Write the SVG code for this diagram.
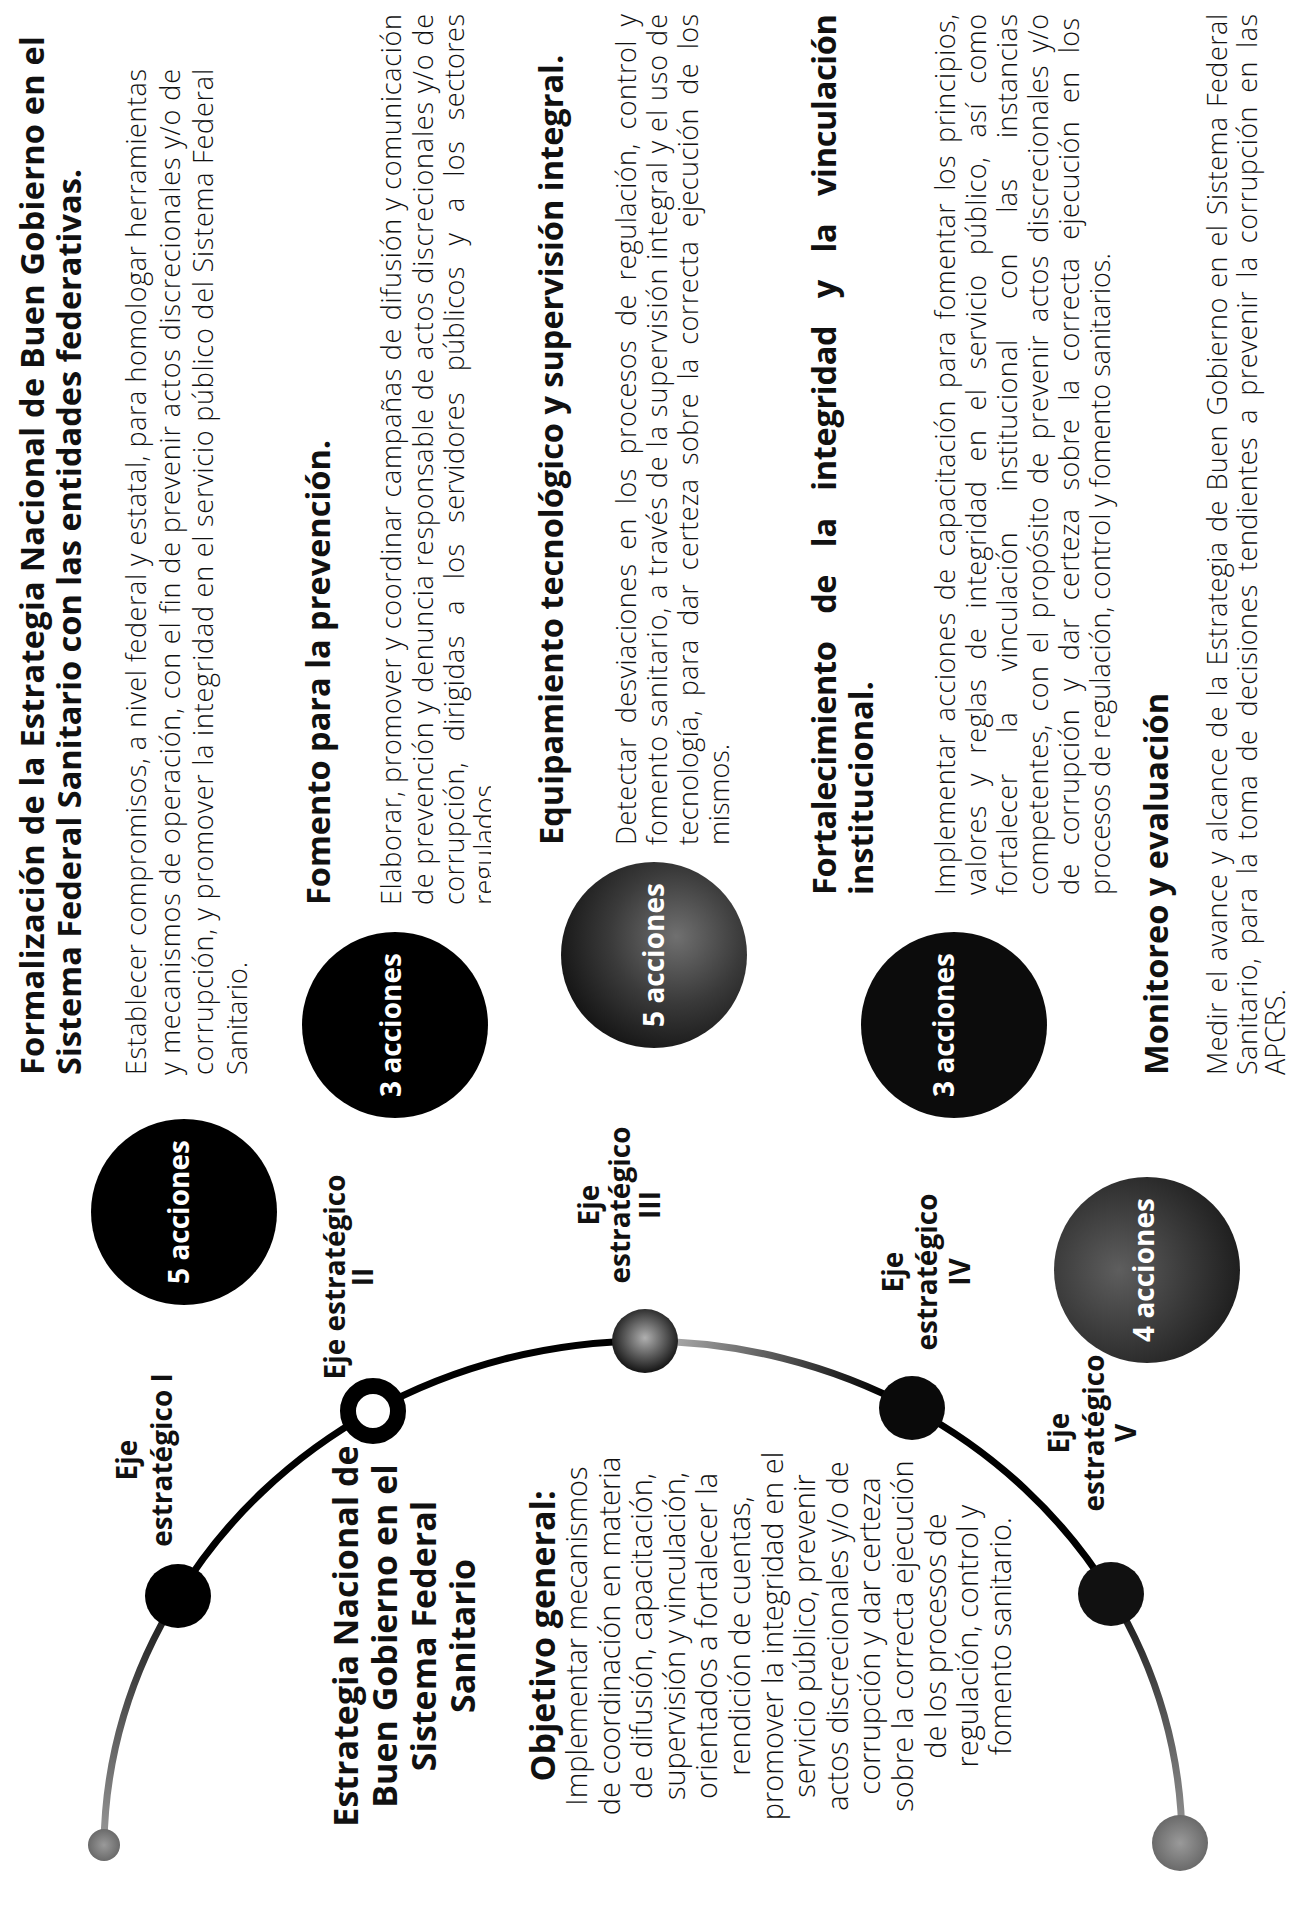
<svg xmlns="http://www.w3.org/2000/svg" width="1295" height="1905" viewBox="0 0 1295 1905">
<defs>
<style>
text{font-family:'Open Sans','Noto Sans','DejaVu Sans',sans-serif;fill:#111}
.h{font-weight:700;font-size:32.5px}
.b{font-weight:300;font-size:27px}
.t{font-weight:700;font-size:34px;text-anchor:middle}
.o{font-weight:300;font-size:29px;text-anchor:middle}
.lab{font-weight:700;font-size:28px;text-anchor:middle}
.cl{font-weight:700;font-size:28px;text-anchor:middle;fill:#fff}
.arc{fill:none;stroke-width:7;stroke-linecap:round}
</style>
<linearGradient id="g0" gradientUnits="userSpaceOnUse" x1="104" y1="1845" x2="178" y2="1596"><stop offset="0" stop-color="#999"/><stop offset="1" stop-color="#111"/></linearGradient>
<linearGradient id="g3" gradientUnits="userSpaceOnUse" x1="670" y1="1341" x2="880" y2="1400"><stop offset="0" stop-color="#aaa"/><stop offset="1" stop-color="#000"/></linearGradient>
<linearGradient id="g5" gradientUnits="userSpaceOnUse" x1="1111" y1="1594" x2="1182" y2="1845"><stop offset="0" stop-color="#111"/><stop offset="1" stop-color="#999"/></linearGradient>
<radialGradient id="rN3" cx="0.5" cy="0.45" r="0.6"><stop offset="0" stop-color="#b0b0b0"/><stop offset="0.5" stop-color="#5a5a5a"/><stop offset="1" stop-color="#050505"/></radialGradient>
<radialGradient id="rEnd" cx="0.5" cy="0.5" r="0.5"><stop offset="0" stop-color="#9a9a9a"/><stop offset="1" stop-color="#6a6a6a"/></radialGradient>
<radialGradient id="rC3" cx="0.62" cy="0.4" r="0.65"><stop offset="0" stop-color="#707070"/><stop offset="0.55" stop-color="#3a3a3a"/><stop offset="1" stop-color="#161616"/></radialGradient>
<radialGradient id="rC5" cx="0.35" cy="0.5" r="0.7"><stop offset="0" stop-color="#5e5e5e"/><stop offset="0.6" stop-color="#353535"/><stop offset="1" stop-color="#1a1a1a"/></radialGradient>
<clipPath id="clipReg" clipPathUnits="userSpaceOnUse"><rect x="0" y="0" width="1905" height="491"/></clipPath>
</defs>
<rect width="1295" height="1905" fill="#fff"/>

<g id="connectors">
<path class="arc" stroke="url(#g0)" stroke-width="5" d="M104 1845 A541 504 0 0 1 178 1596"/>
<path class="arc" stroke="#000" d="M178 1596 A541 504 0 0 1 373 1411"/>
<path class="arc" stroke="#000" d="M373 1411 A541 504 0 0 1 645 1341"/>
<path class="arc" stroke="url(#g3)" d="M645 1341 A541 504 0 0 1 912 1408"/>
<path class="arc" stroke="#000" d="M912 1408 A541 504 0 0 1 1111 1594"/>
<path class="arc" stroke="url(#g5)" stroke-width="5" d="M1111 1594 A541 504 0 0 1 1182 1845"/>
</g>

<g id="end-top"><circle cx="104" cy="1845" r="16" fill="url(#rEnd)"/></g>
<g id="end-bottom"><circle cx="1180" cy="1843" r="28" fill="url(#rEnd)"/></g>

<g id="node-eje1">
<ellipse cx="178" cy="1596" rx="33" ry="32" fill="#000"/>
<g transform="translate(0 1905) rotate(-90)">
<text class="lab" x="445" y="137">Eje</text>
<text class="lab" x="445" y="172">estratégico I</text>
</g>
</g>

<g id="node-eje2">
<circle cx="373" cy="1411" r="25" fill="#fff" stroke="#000" stroke-width="16"/>
<g transform="translate(0 1905) rotate(-90)">
<text class="lab" x="628" y="345">Eje estratégico</text>
<text class="lab" x="628" y="373">II</text>
</g>
</g>

<g id="node-eje3">
<ellipse cx="645" cy="1341" rx="33" ry="32" fill="url(#rN3)"/>
<g transform="translate(0 1905) rotate(-90)">
<text class="lab" x="700" y="599">Eje</text>
<text class="lab" x="700" y="630">estratégico</text>
<text class="lab" x="700" y="660">III</text>
</g>
</g>

<g id="node-eje4">
<ellipse cx="912" cy="1408" rx="33" ry="32" fill="#0a0a0a"/>
<g transform="translate(0 1905) rotate(-90)">
<text class="lab" x="633" y="903">Eje</text>
<text class="lab" x="633" y="937">estratégico</text>
<text class="lab" x="633" y="970">IV</text>
</g>
</g>

<g id="node-eje5">
<ellipse cx="1111" cy="1594" rx="33" ry="32" fill="#111"/>
<g transform="translate(0 1905) rotate(-90)">
<text class="lab" x="472" y="1069">Eje</text>
<text class="lab" x="472" y="1104">estratégico</text>
<text class="lab" x="472" y="1136">V</text>
</g>
</g>

<g id="acciones-1">
<circle cx="184" cy="1212" r="93" fill="#000"/>
<g transform="translate(0 1905) rotate(-90)"><text class="cl" x="693" y="189">5 acciones</text></g>
</g>
<g id="acciones-2">
<circle cx="395" cy="1025" r="93" fill="#000"/>
<g transform="translate(0 1905) rotate(-90)"><text class="cl" x="880" y="401">3 acciones</text></g>
</g>
<g id="acciones-3">
<circle cx="654" cy="955" r="93" fill="url(#rC3)"/>
<g transform="translate(0 1905) rotate(-90)"><text class="cl" x="950" y="664">5 acciones</text></g>
</g>
<g id="acciones-4">
<circle cx="954" cy="1025" r="93" fill="#0c0c0c"/>
<g transform="translate(0 1905) rotate(-90)"><text class="cl" x="880" y="954">3 acciones</text></g>
</g>
<g id="acciones-5">
<circle cx="1147" cy="1270" r="93" fill="url(#rC5)"/>
<g transform="translate(0 1905) rotate(-90)"><text class="cl" x="635" y="1154">4 acciones</text></g>
</g>

<g id="estrategia" transform="translate(0 1905) rotate(-90)">
<text class="t" x="269" y="358">Estrategia Nacional de</text>
<text class="t" x="269" y="397">Buen Gobierno en el</text>
<text class="t" x="269" y="436">Sistema Federal</text>
<text class="t" x="269" y="475">Sanitario</text>
<text class="t" x="269" y="555">Objetivo general:</text>
<text class="o" x="269" y="587">Implementar mecanismos</text>
<text class="o" x="269" y="619.6">de coordinación en materia</text>
<text class="o" x="269" y="652.2">de difusión, capacitación,</text>
<text class="o" x="269" y="684.8">supervisión y vinculación,</text>
<text class="o" x="269" y="717.4">orientados a fortalecer la</text>
<text class="o" x="269" y="750">rendición de cuentas,</text>
<text class="o" x="269" y="782.6">promover la integridad en el</text>
<text class="o" x="269" y="815.2">servicio público, prevenir</text>
<text class="o" x="269" y="847.8">actos discrecionales y/o de</text>
<text class="o" x="269" y="880.4">corrupción y dar certeza</text>
<text class="o" x="269" y="913">sobre la correcta ejecución</text>
<text class="o" x="269" y="945.6">de los procesos de</text>
<text class="o" x="269" y="978.2">regulación, control y</text>
<text class="o" x="269" y="1010.8">fomento sanitario.</text>
</g>

<g id="eje1-texto" transform="translate(0 1905) rotate(-90)">
<text class="h" x="830" y="44" textLength="1039" lengthAdjust="spacing">Formalización de la Estrategia Nacional de Buen Gobierno en el</text>
<text class="h" x="830" y="81">Sistema Federal Sanitario con las entidades federativas.</text>
<text class="b" x="830" y="146" textLength="1006" lengthAdjust="spacing">Establecer compromisos, a nivel federal y estatal, para homologar herramientas</text>
<text class="b" x="830" y="179.5" textLength="1006" lengthAdjust="spacing">y mecanismos de operación, con el fin de prevenir actos discrecionales y/o de</text>
<text class="b" x="830" y="213" textLength="1006" lengthAdjust="spacing">corrupción, y promover la integridad en el servicio público del Sistema Federal</text>
<text class="b" x="830" y="246.5">Sanitario.</text>
</g>

<g id="eje2-texto" transform="translate(0 1905) rotate(-90)">
<text class="h" x="1000" y="330">Fomento para la prevención.</text>
<text class="b" x="1000" y="401" textLength="891" lengthAdjust="spacing">Elaborar, promover y coordinar campañas de difusión y comunicación</text>
<text class="b" x="1000" y="433" textLength="891" lengthAdjust="spacing">de prevención y denuncia responsable de actos discrecionales y/o de</text>
<text class="b" x="1000" y="464" textLength="891" lengthAdjust="spacing" word-spacing="13.2">corrupción, dirigidas a los servidores públicos y a los sectores</text>
<text class="b" x="1000" y="494" clip-path="url(#clipReg)">regulados.</text>
</g>

<g id="eje3-texto" transform="translate(0 1905) rotate(-90)">
<text class="h" x="1060" y="563">Equipamiento tecnológico y supervisión integral.</text>
<text class="b" x="1060" y="636" textLength="831" lengthAdjust="spacing" word-spacing="6.4">Detectar desviaciones en los procesos de regulación, control y</text>
<text class="b" x="1060" y="667" textLength="831" lengthAdjust="spacing">fomento sanitario, a través de la supervisión integral y el uso de</text>
<text class="b" x="1060" y="698" textLength="831" lengthAdjust="spacing" word-spacing="6.1">tecnología, para dar certeza sobre la correcta ejecución de los</text>
<text class="b" x="1060" y="729">mismos.</text>
</g>

<g id="eje4-texto" transform="translate(0 1905) rotate(-90)">
<text class="h" x="1010" y="836" textLength="881" lengthAdjust="spacing" word-spacing="19.5">Fortalecimiento de la integridad y la vinculación</text>
<text class="h" x="1010" y="873">institucional.</text>
<text class="b" x="1010" y="955" textLength="881" lengthAdjust="spacing" word-spacing="4.4">Implementar acciones de capacitación para fomentar los principios,</text>
<text class="b" x="1010" y="986" textLength="881" lengthAdjust="spacing" word-spacing="11.7">valores y reglas de integridad en el servicio público, así como</text>
<text class="b" x="1010" y="1017" textLength="881" lengthAdjust="spacing" word-spacing="32.8">fortalecer la vinculación institucional con las instancias</text>
<text class="b" x="1010" y="1048" textLength="881" lengthAdjust="spacing" word-spacing="5.2">competentes, con el propósito de prevenir actos discrecionales y/o</text>
<text class="b" x="1010" y="1079" textLength="877" lengthAdjust="spacing" word-spacing="10.5">de corrupción y dar certeza sobre la correcta ejecución en los</text>
<text class="b" x="1010" y="1110">procesos de regulación, control y fomento sanitarios.</text>
</g>

<g id="eje5-texto" transform="translate(0 1905) rotate(-90)">
<text class="h" x="830" y="1168">Monitoreo y evaluación</text>
<text class="b" x="830" y="1227" textLength="1061" lengthAdjust="spacing" word-spacing="2.1">Medir el avance y alcance de la Estrategia de Buen Gobierno en el Sistema Federal</text>
<text class="b" x="830" y="1257" textLength="1061" lengthAdjust="spacing" word-spacing="5.7">Sanitario, para la toma de decisiones tendientes a prevenir la corrupción en las</text>
<text class="b" x="830" y="1285">APCRS.</text>
</g>
</svg>
